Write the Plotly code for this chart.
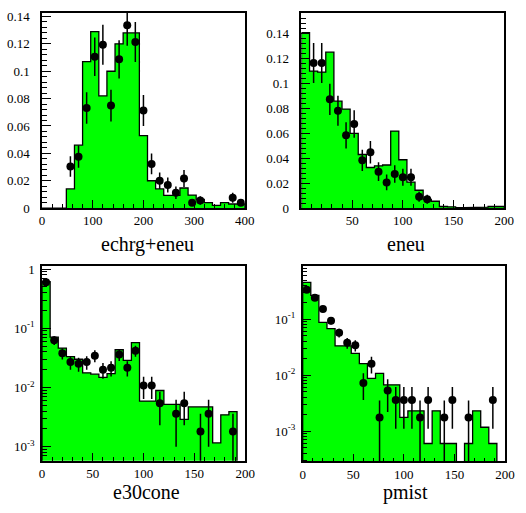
import numpy as np
import plotly.graph_objects as go

# ---------------- data ----------------
# echrg+eneu : 25 bins from 0 to 400
ECHRG_RANGE = (0, 400)
ECHRG_MC = [0, 0, 0, 0.014, 0.046, 0.107, 0.129, 0.082, 0.100, 0.120, 0.128, 0.128,
            0.053, 0.020, 0.014, 0.0093, 0.0093, 0.0147, 0.0095, 0.0064, 0.004, 0.002,
            0.004, 0.003, 0.003]
ECHRG_DATA = [None, None, None, 0.0304, 0.0376, 0.0732, 0.1106, 0.1194, 0.0749, 0.1087,
              0.1336, 0.1213, 0.0713, 0.0323, 0.0200, 0.0169, 0.0112, 0.0216, 0.0040,
              0.0055, None, None, None, 0.0076, 0.0040]
ECHRG_ERR = [None, None, None, 0.0074, 0.0082, 0.0115, 0.0140, 0.0146, 0.0116, 0.0140,
             0.0150, 0.0146, 0.0113, 0.0076, 0.0060, 0.0055, 0.0045, 0.0062, 0.0025,
             0.0031, None, None, None, 0.0036, 0.0025]

# eneu : 25 bins from 0 to 200
ENEU_RANGE = (0, 200)
ENEU_MC = [0.1403, 0.1096, 0.1088, 0.1247, 0.0855, 0.0792, 0.0597, 0.0429, 0.0325,
           0.0338, 0.0345, 0.0616, 0.0387, 0.0208, 0.0143, 0.0070, 0.0055, 0.0013,
           0.0010, 0.0003, 0.0003, 0.0008, 0.0008, 0.0013, 0.0013]
ENEU_DATA = [None, 0.1161, 0.1161, 0.0870, 0.0779, 0.0582, 0.0673, 0.0382, 0.0447,
             0.0291, 0.0205, 0.0273, 0.0247, 0.0247, 0.0091, 0.0070, None, None, None,
             None, None, None, None, None, None]
ENEU_ERR = [None, 0.016, 0.016, 0.0125, 0.012, 0.0105, 0.011, 0.0085, 0.009, 0.0075,
            0.0063, 0.007, 0.0068, 0.0068, 0.004, 0.0036, None, None, None, None, None,
            None, None, None, None]

# e30cone : 25 bins from 0 to 200 (log scale)
E30_RANGE = (0, 200)
E30_MC = [0.611, 0.0711, 0.0463, 0.0333, 0.0300, 0.0177, 0.0168, 0.0148, 0.0172, 0.0434,
          0.0286, 0.0574, 0.0059, 0.0059, 0.0089, 0.0052, 0.0052, 0.0029, 0.0047, 0.0047,
          0.0047, 0.00116, 0.00345, 0.0039, 0]
E30_DATA = [0.596, 0.0627, 0.0378, 0.0269, 0.0252, 0.0269, 0.0345, 0.0200, 0.0216, 0.0359,
            0.0216, 0.0418, 0.0108, 0.0108, 0.0054, None, 0.0036, 0.0054, None, 0.0018,
            0.0036, None, None, 0.0018, None]
E30_ERR = [0.033, 0.0106, 0.0082, 0.0069, 0.0067, 0.0069, 0.0079, 0.0060, 0.0062, 0.0080,
           0.0062, 0.0087, 0.0044, 0.0044, 0.0031, None, 0.0026, 0.0031, None, 0.0018,
           0.0026, None, None, 0.0018, None]

# pmist : 25 bins from 0 to 200 (log scale)
PMIST_RANGE = (0, 200)
PMIST_MC = [0.454, 0.265, 0.0875, 0.0678, 0.0334, 0.0334, 0.0245, 0.0160, 0.00875, 0.0107,
            0.0067, 0.0067, 0.00175, 0.0023, 0.0023, 0.0006, 0.0023, 0.0006, 0.0006, 0,
            0.0006, 0.0023, 0.00117, 0.0006, 0]
PMIST_DATA = [0.334, 0.242, 0.151, 0.0935, 0.057, 0.0377, 0.0343, 0.0072, 0.016, 0.00175,
              0.0053, 0.0036, 0.0036, 0.0036, 0.00175, 0.0036, None, 0.00175, 0.0036, None,
              0.00175, None, None, 0.0036, None]
PMIST_ERR = [0.025, 0.021, 0.0165, 0.013, 0.010, 0.0082, 0.0078, 0.0036, 0.0053, 0.00175,
             0.0031, 0.0025, 0.0025, 0.0025, 0.00175, 0.0025, None, 0.00175, 0.0025, None,
             0.00175, None, None, 0.0025, None]

TITLES = ["echrg+eneu", "eneu", "e30cone", "pmist"]

# ---------------- figure ----------------
W, H = 526, 513
FONT = "Liberation Serif"
GREEN = "#00ff00"

fig = go.Figure()

panels = [
    dict(rng=ECHRG_RANGE, mc=ECHRG_MC, data=ECHRG_DATA, err=ECHRG_ERR, log=False,
         px=(40, 248), py=(9.3, 209), xa="x", ya="y"),
    dict(rng=ENEU_RANGE, mc=ENEU_MC, data=ENEU_DATA, err=ENEU_ERR, log=False,
         px=(306, 514), py=(9.3, 209), xa="x2", ya="y2"),
    dict(rng=E30_RANGE, mc=E30_MC, data=E30_DATA, err=E30_ERR, log=True,
         px=(40, 248.3), py=(268.3, 467.7), xa="x3", ya="y3"),
    dict(rng=PMIST_RANGE, mc=PMIST_MC, data=PMIST_DATA, err=PMIST_ERR, log=True,
         px=(307.3, 514.7), py=(268.3, 468.3), xa="x4", ya="y4"),
]

for p in panels:
    n = len(p["mc"])
    edges = np.linspace(p["rng"][0], p["rng"][1], n + 1)
    centers = 0.5 * (edges[:-1] + edges[1:])
    base = 1e-7 if p["log"] else 0
    ol = [v if v > 0 else base for v in p["mc"]]
    # step polygon built from the bin edges and histogram contents
    sx, sy = [edges[0]], [base]
    for i, v in enumerate(ol):
        sx += [edges[i], edges[i + 1]]
        sy += [v, v]
    sx.append(edges[-1])
    sy.append(base)
    fig.add_trace(go.Scatter(x=sx, y=sy, mode="lines", fill="toself", fillcolor=GREEN,
                             line=dict(color="black", width=1.3),
                             xaxis=p["xa"], yaxis=p["ya"], hoverinfo="skip"))
    dx, dy, ep, em = [], [], [], []
    for c, v, e in zip(centers, p["data"], p["err"]):
        if v is None:
            continue
        dx.append(c)
        dy.append(v)
        ep.append(e)
        em.append(min(e, 0.9999 * v) if p["log"] else e)
    fig.add_trace(go.Scatter(x=dx, y=dy, mode="markers",
                             marker=dict(color="black", size=8),
                             error_y=dict(type="data", array=ep, arrayminus=em, symmetric=False,
                                          color="black", thickness=1.5, width=0),
                             xaxis=p["xa"], yaxis=p["ya"], hoverinfo="skip"))

def dom_x(a, b):
    return [a / W, b / W]

def dom_y(top, bot):
    return [(H - bot) / H, (H - top) / H]

common = dict(showline=True, linecolor="black", linewidth=1.5, mirror=True,
              ticks="inside", tickcolor="black", tickwidth=1, showgrid=False, zeroline=False,
              tickfont=dict(family=FONT, size=13, color="black"))

layout_axes = {}
names = [("xaxis", "yaxis"), ("xaxis2", "yaxis2"), ("xaxis3", "yaxis3"), ("xaxis4", "yaxis4")]
for i, (p, (xn, yn)) in enumerate(zip(panels, names)):
    xa = dict(common, domain=dom_x(*p["px"]), range=list(p["rng"]), ticklen=8,
              anchor=p["ya"], ticklabelstandoff=0,
              minor=dict(ticks="inside", ticklen=4, tickcolor="black", showgrid=False))
    if i == 0:
        xa.update(tickvals=[0, 100, 200, 300, 400], ticktext=["0", "100", "200", "300", "400"])
        xa["minor"]["dtick"] = 20
        xa["minor"]["tick0"] = 0
    elif i == 1:
        xa.update(tickvals=[50, 100, 150, 200], ticktext=["50", "100", "150", "200"])
        xa["minor"]["dtick"] = 10
        xa["minor"]["tick0"] = 0
    else:
        xa.update(tickvals=[0, 50, 100, 150, 200], ticktext=["0", "50", "100", "150", "200"])
        xa["minor"]["dtick"] = 10
        xa["minor"]["tick0"] = 0
    ya = dict(common, domain=dom_y(*p["py"]), anchor=p["xa"], ticklen=9, ticklabelstandoff=8,
              minor=dict(ticks="inside", ticklen=5, tickcolor="black", showgrid=False))
    if not p["log"]:
        top = 0.1425 if i == 0 else 0.156
        yv = [0, 0.02, 0.04, 0.06, 0.08, 0.1, 0.12, 0.14]
        ya.update(range=[0, top], tickvals=yv,
                  ticktext=["0", "0.02", "0.04", "0.06", "0.08", "0.1", "0.12", "0.14"])
        ya["minor"]["dtick"] = 0.004
        ya["minor"]["tick0"] = 0
    else:
        ya.update(type="log", ticklabelstandoff=3)
        if i == 2:
            ya.update(range=[-3.237, 0.051], tickvals=[1e-3, 1e-2, 1e-1, 1],
                      ticktext=["10<sup>-3</sup>", "10<sup>-2</sup>", "10<sup>-1</sup>", "1"])
        else:
            ya.update(range=[-3.541, -0.051], tickvals=[1e-3, 1e-2, 1e-1],
                      ticktext=["10<sup>-3</sup>", "10<sup>-2</sup>", "10<sup>-1</sup>"])
        mv = [m * 10.0 ** e for e in range(-4, 1) for m in range(2, 10)]
        ya["minor"]["tickvals"] = mv
    layout_axes[xn] = xa
    layout_axes[yn] = ya

title_pos = [(148, 233), (413, 233), (147, 487), (413, 487)]
annotations = []
for t, (x, y) in zip(TITLES, title_pos):
    annotations.append(dict(text=t, x=x / W, y=(H - y) / H, xref="paper", yref="paper",
                            xanchor="center", yanchor="top", showarrow=False, borderpad=0,
                            font=dict(family=FONT, size=20, color="black")))

fig.update_layout(width=W, height=H, margin=dict(l=0, r=0, t=0, b=0),
                  paper_bgcolor="white", plot_bgcolor="white", showlegend=False,
                  annotations=annotations, **layout_axes)

fig.write_html("out.html")
